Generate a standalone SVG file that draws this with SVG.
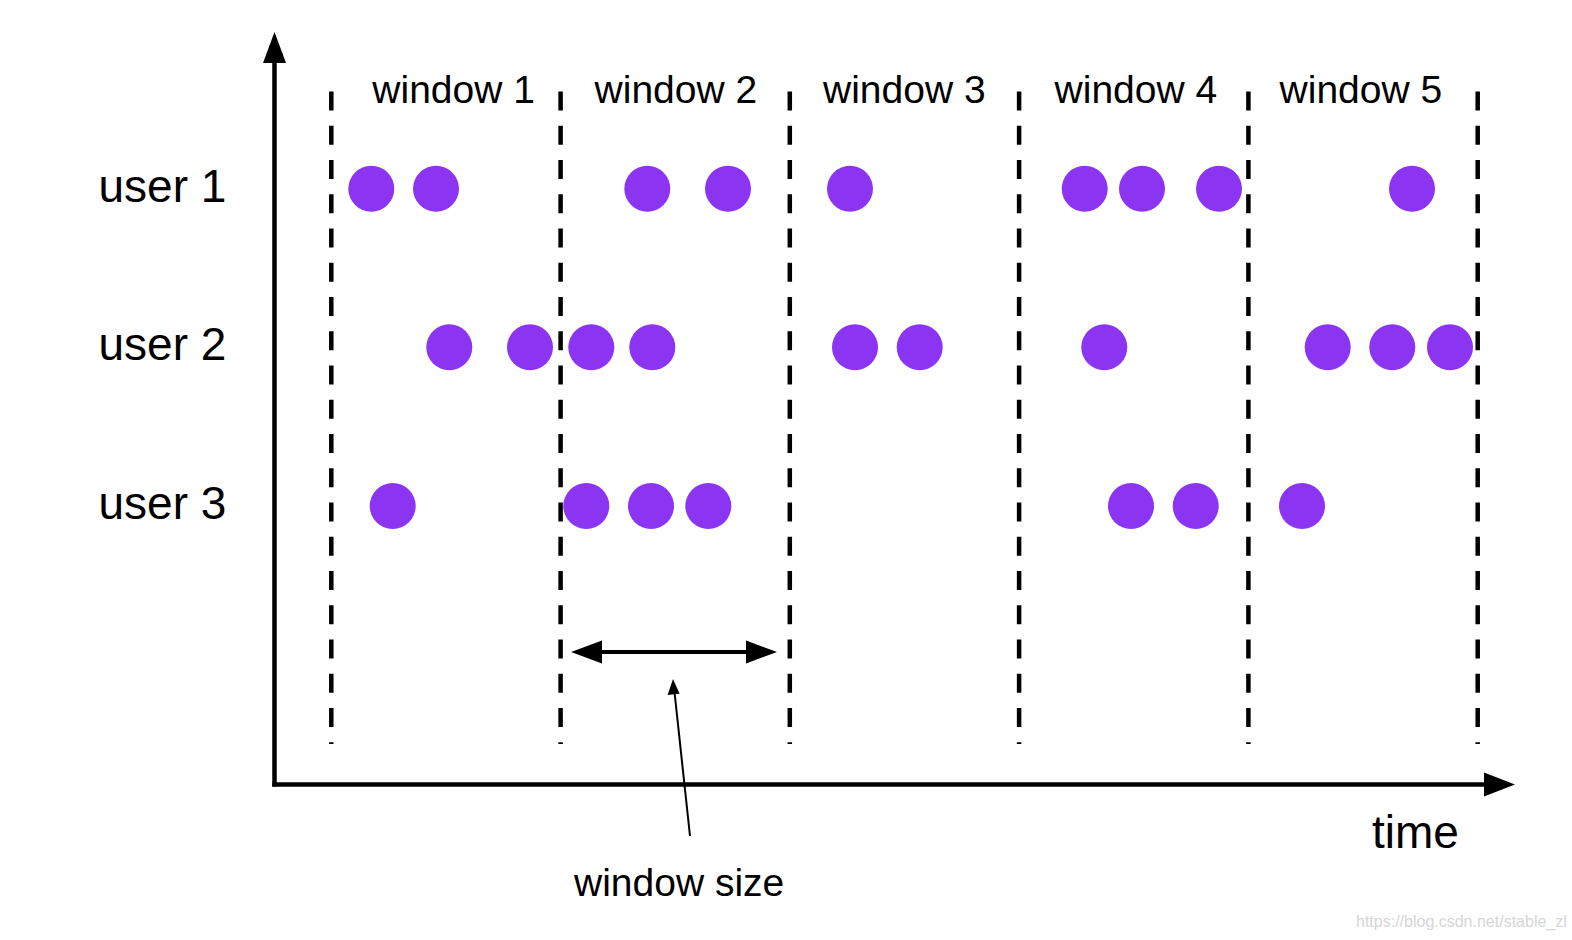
<svg xmlns="http://www.w3.org/2000/svg" width="1572" height="940" viewBox="0 0 1572 940">
<style>
text{font-family:"Liberation Sans",Arial,sans-serif;fill:#000}
.win{font-size:39px}
.user{font-size:46px}
.time{font-size:46px}
.wm{font-size:16px;fill:#d6d6d6}
.div{stroke:#000;stroke-width:4.5;stroke-dasharray:19 15.25;fill:none}
.axis{stroke:#000;stroke-width:4.5;fill:none}
.ev{fill:#8b35f3}
.head{fill:#000}
</style>
<rect width="1572" height="940" fill="#fff"/>
<g id="dividers">
<line class="div" x1="331.3" y1="91.5" x2="331.3" y2="744"/>
<line class="div" x1="560.6" y1="91.5" x2="560.6" y2="744"/>
<line class="div" x1="789.8" y1="91.5" x2="789.8" y2="744"/>
<line class="div" x1="1019.1" y1="91.5" x2="1019.1" y2="744"/>
<line class="div" x1="1248.4" y1="91.5" x2="1248.4" y2="744"/>
<line class="div" x1="1477.7" y1="91.5" x2="1477.7" y2="744"/>
</g>
<g id="connectors">
<g id="y-axis">
<line class="axis" x1="274.5" y1="786.5" x2="274.5" y2="60"/>
<polygon class="head" points="274.5,32 263,63 286,63"/>
</g>
<g id="x-axis">
<line class="axis" x1="272.3" y1="784.5" x2="1488" y2="784.5"/>
<polygon class="head" points="1515,784.5 1484,772.5 1484,796.5"/>
</g>
<g id="window-size-span">
<line stroke="#000" stroke-width="4" x1="595" y1="652" x2="752" y2="652"/>
<polygon class="head" points="571,652 602,640.5 602,663.5"/>
<polygon class="head" points="777,652 746,640.5 746,663.5"/>
</g>
<g id="window-size-pointer">
<line stroke="#000" stroke-width="2" x1="690" y1="836" x2="674.6" y2="693"/>
<polygon class="head" points="673,679 667.6,695 679.6,693.7"/>
</g>
</g>
<g id="window-labels">
<text class="win" x="372.3" y="102.7">window 1</text>
<text class="win" x="594.6" y="102.7">window 2</text>
<text class="win" x="823" y="102.7">window 3</text>
<text class="win" x="1054.6" y="102.7">window 4</text>
<text class="win" x="1279.6" y="102.7">window 5</text>
</g>
<g id="user-labels">
<text class="user" x="98.5" y="201.7">user 1</text>
<text class="user" x="98.5" y="360">user 2</text>
<text class="user" x="98.5" y="518.5">user 3</text>
</g>
<g id="user1-events">
<circle class="ev" cx="371.3" cy="188.7" r="23"/>
<circle class="ev" cx="436" cy="188.7" r="23"/>
<circle class="ev" cx="647.3" cy="188.7" r="23"/>
<circle class="ev" cx="728" cy="188.7" r="23"/>
<circle class="ev" cx="850" cy="188.7" r="23"/>
<circle class="ev" cx="1084.7" cy="188.7" r="23"/>
<circle class="ev" cx="1142" cy="188.7" r="23"/>
<circle class="ev" cx="1219" cy="188.7" r="23"/>
<circle class="ev" cx="1412" cy="188.7" r="23"/>
</g>
<g id="user2-events">
<circle class="ev" cx="449.3" cy="347.3" r="23"/>
<circle class="ev" cx="530" cy="347.3" r="23"/>
<circle class="ev" cx="591.3" cy="347.3" r="23"/>
<circle class="ev" cx="652.3" cy="347.3" r="23"/>
<circle class="ev" cx="855" cy="347.3" r="23"/>
<circle class="ev" cx="919.7" cy="347.3" r="23"/>
<circle class="ev" cx="1104.3" cy="347.3" r="23"/>
<circle class="ev" cx="1327.7" cy="347.3" r="23"/>
<circle class="ev" cx="1392.3" cy="347.3" r="23"/>
<circle class="ev" cx="1450" cy="347.3" r="23"/>
</g>
<g id="user3-events">
<circle class="ev" cx="392.7" cy="506" r="23"/>
<circle class="ev" cx="586.3" cy="506" r="23"/>
<circle class="ev" cx="651" cy="506" r="23"/>
<circle class="ev" cx="708.3" cy="506" r="23"/>
<circle class="ev" cx="1131" cy="506" r="23"/>
<circle class="ev" cx="1195.7" cy="506" r="23"/>
<circle class="ev" cx="1302" cy="506" r="23"/>
</g>
<g id="axis-labels">
<text class="time" x="1372" y="848.3">time</text>
<text class="win" x="574" y="896">window size</text>
</g>
<text class="wm" x="1356" y="927">https://blog.csdn.net/stable_zl</text>
</svg>
